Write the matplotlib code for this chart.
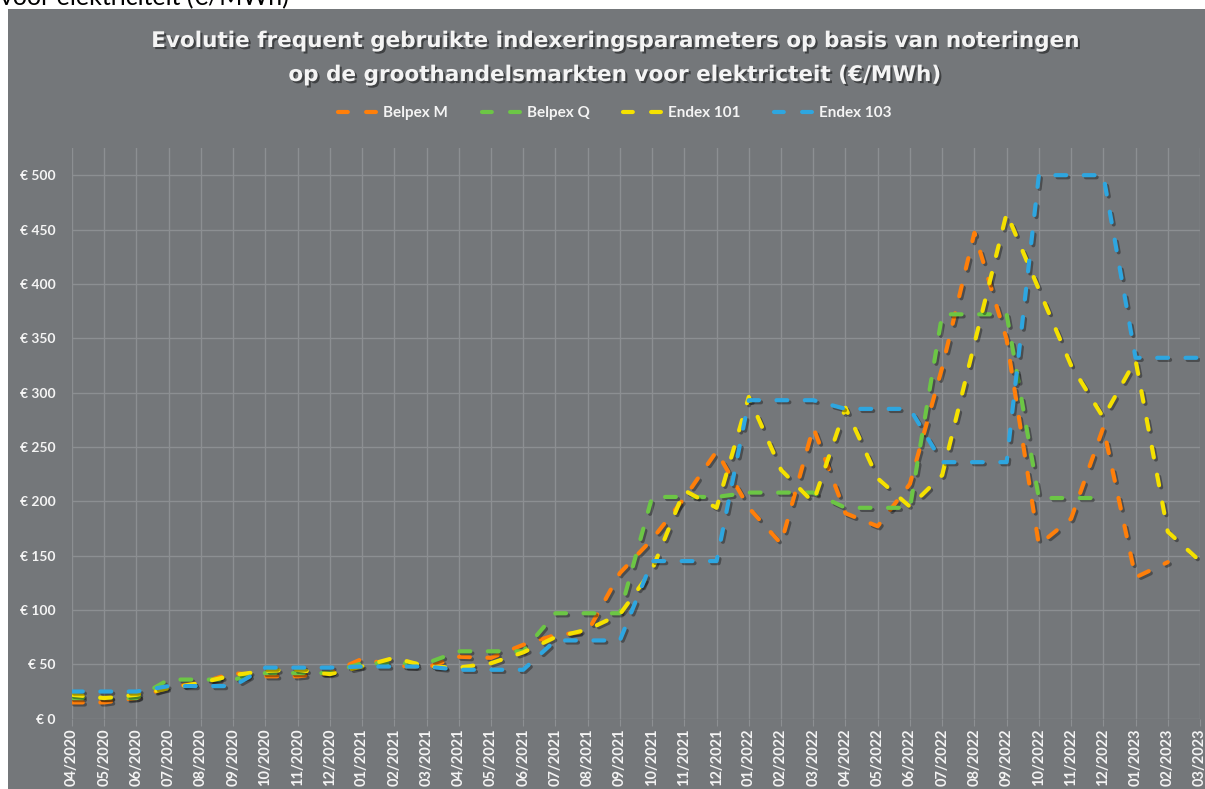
import numpy as np
import matplotlib.pyplot as plt
import matplotlib.patheffects as pe
from matplotlib.patches import Rectangle
from matplotlib.lines import Line2D

# ---------- DATA ----------
months = ["04/2020", "05/2020", "06/2020", "07/2020", "08/2020", "09/2020",
          "10/2020", "11/2020", "12/2020", "01/2021", "02/2021", "03/2021",
          "04/2021", "05/2021", "06/2021", "07/2021", "08/2021", "09/2021",
          "10/2021", "11/2021", "12/2021", "01/2022", "02/2022", "03/2022",
          "04/2022", "05/2022", "06/2022", "07/2022", "08/2022", "09/2022",
          "10/2022", "11/2022", "12/2022", "01/2023", "02/2023", "03/2023"]

belpex_m = [15, 15, 19, 29, 33, 42, 39, 39, 42, 55, 49, 47,
            57, 56, 68, 77, 80, 134, 165, 203, 246, 194, 161, 268,
            189, 177, 216, 323, 447, 349, 160, 184, 268, 130, 144]
belpex_q = [19, 19, 19, 36, 36, 36, 42, 42, 42, 51, 51, 51,
            62, 62, 62, 97, 97, 97, 204, 204, 204, 208, 208, 208,
            194, 194, 194, 372, 372, 372, 203, 203, 203]
endex_101 = [22, 19, 22, 28, 33, 40, 44, 45, 41, 48, 56, 48,
             47, 51, 61, 75, 82, 96, 137, 210, 194, 296, 229, 199,
             286, 221, 195, 224, 345, 465, 395, 325, 277, 330, 172, 145]
endex_103 = [25, 25, 25, 30, 30, 30, 47, 47, 47, 48, 48, 48,
             45, 45, 45, 72, 72, 72, 145, 145, 145, 293, 293, 293,
             285, 285, 285, 236, 236, 236, 500, 500, 500, 332, 332, 332]

series_names = ["Belpex M", "Belpex Q", "Endex 101", "Endex 103"]
series_values = [belpex_m, belpex_q, endex_101, endex_103]
series_colors = ["#FF7F0A", "#6CC645", "#F5E100", "#2EA6E0"]

y_ticks = [0, 50, 100, 150, 200, 250, 300, 350, 400, 450, 500]

# ---------- STYLE ----------
BG = "#74777A"
GRID = "#8C8F92"
TXT = "#F4F4F4"
plt.rcParams["font.family"] = ["Lato", "DejaVu Sans"]

W, H = 1205, 789
fig = plt.figure(figsize=(W / 100, H / 100), dpi=100, facecolor="white")
fig.patches.append(Rectangle((8 / W, 0), 1, (H - 9) / H, transform=fig.transFigure,
                             facecolor=BG, edgecolor="none", zorder=-10))

# caption of the page above the chart (cut off at the top, as in the source)
fig.text(0, (H - 5) / H, "voor elektriciteit (€/MWh)", fontsize=18, color="black",
         ha="left", va="baseline", zorder=-5)

shadow = [pe.withSimplePatchShadow(offset=(1.5, -1.5), shadow_rgbFace="black", alpha=0.45)]
for txt, base in [("Evolutie frequent gebruikte indexeringsparameters op basis van noteringen", 47),
                  ("op de groothandelsmarkten voor elektricteit (€/MWh)", 81)]:
    fig.text(614 / W, (H - base) / H, txt, family="DejaVu Sans",
             fontsize=15.5, weight="bold", color=TXT, ha="center", va="baseline",
             path_effects=shadow)

# ---------- AXES ----------
y0, ytop = 718.7, 148
ax = fig.add_axes([72 / W, (H - y0) / H, (1200 - 72) / W, (y0 - ytop) / H])
ax.set_facecolor("none")
x = np.arange(len(months))

line_shadow = [pe.SimpleLineShadow(offset=(1.5, -1.5), shadow_color="black", alpha=0.35),
               pe.Normal()]
handles = []
for name, vals, col in zip(series_names, series_values, series_colors):
    ax.plot(x[:len(vals)], vals, color=col, lw=3, dashes=(2.6, 4.2),
            dash_capstyle="round", path_effects=line_shadow, label=name, zorder=3)
    handles.append(Line2D([], [], color=col, lw=3, dashes=(2.35, 4.4),
                          dash_capstyle="round"))

ax.set_xlim(0, len(months) - 1)
ax.set_ylim(0, 525)
ax.set_xticks(x)
ax.set_xticklabels(months, rotation=90, fontsize=10.5, weight="bold", color=TXT)
ax.set_yticks(y_ticks)
ax.set_yticklabels([f"€ {v}" for v in y_ticks], fontsize=10, weight="bold", color=TXT)
ax.tick_params(axis="x", length=5, color=GRID, pad=2)
ax.tick_params(axis="y", length=0, pad=12)
ax.grid(True, color=GRID, lw=1)
ax.set_axisbelow(True)
for s in ax.spines.values():
    s.set_visible(False)

fig.legend(handles, series_names, loc="center", bbox_to_anchor=(615 / W, (H - 113) / H),
           ncol=4, frameon=False, handlelength=2.55, handletextpad=0.4,
           columnspacing=2.2, prop={"weight": "bold", "size": 11}, labelcolor=TXT)

fig.savefig("out.png", dpi=100, facecolor="white")
